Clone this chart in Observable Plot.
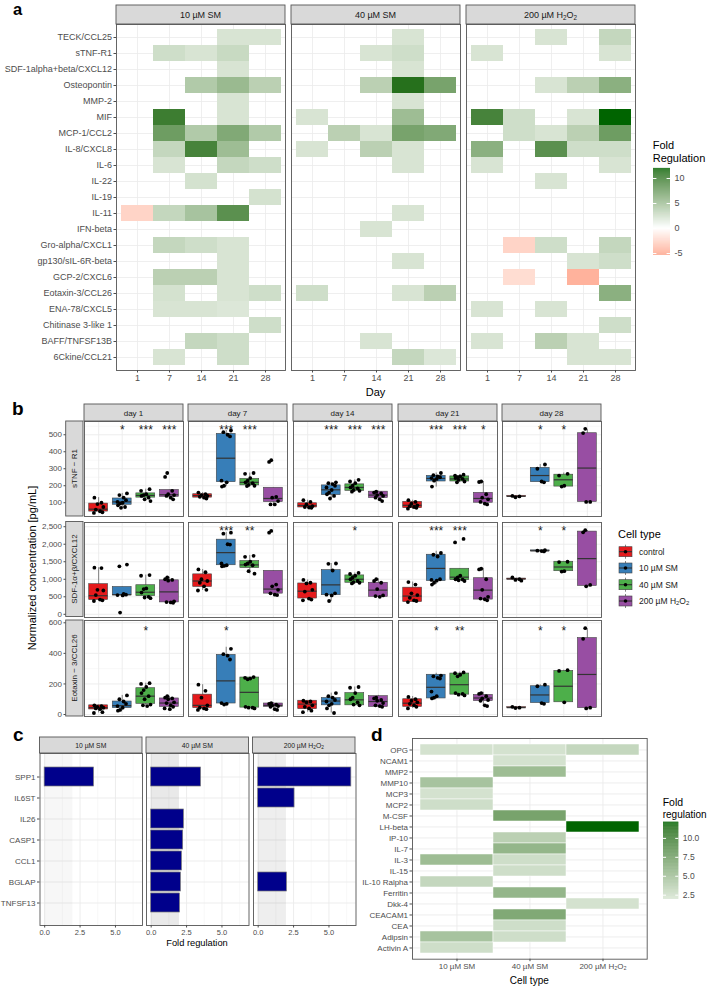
<!DOCTYPE html>
<html><head><meta charset="utf-8">
<script src="https://cdn.jsdelivr.net/npm/d3@7"></script>
<script src="https://cdn.jsdelivr.net/npm/@observablehq/plot@0.6"></script>
<style>
body{margin:0;background:#fff;}
#root{position:relative;width:708px;height:987px;overflow:hidden;background:#fff;}
</style></head><body><div id="root"></div>
<script>
// ---------------- DATA ----------------
// Panel a: cytokine array, fold regulation (null = not regulated)
const cytokinesA = ["TECK/CCL25","sTNF-R1","SDF-1alpha+beta/CXCL12","Osteopontin","MMP-2","MIF","MCP-1/CCL2","IL-8/CXCL8","IL-6","IL-22","IL-19","IL-11","IFN-beta","Gro-alpha/CXCL1","gp130/sIL-6R-beta","GCP-2/CXCL6","Eotaxin-3/CCL26","ENA-78/CXCL5","Chitinase 3-like 1","BAFF/TNFSF13B","6Ckine/CCL21"];
const daysA = ["1","7","14","21","28"];
const treatments = ["10 µM SM","40 µM SM","200 µM H2O2"];
const foldA_10SM = [
 [null,null,null,2,2],[null,2.5,2,2.8,null],[null,null,null,2,null],[null,null,4,5.2,3.5],
 [null,null,null,2,null],[null,10,null,2,null],[null,7.5,4,6.5,4],[null,3,9.5,5,null],
 [null,2,null,3,2.5],[null,null,2.2,null,null],[null,null,null,null,2.2],[-2.5,3,4.5,8.5,null],
 [null,null,null,null,null],[null,3,2.5,2,null],[null,null,null,2,null],[null,3.5,3.5,2,null],
 [null,2.2,null,2,2.5],[null,2,2,1.8,null],[null,null,null,null,2.5],[null,null,3,2.5,null],
 [null,2,null,2.5,null]];
const foldA_40SM = [
 [null,null,null,2,null],[null,null,2,2.5,null],[null,null,null,2,null],[null,null,3.5,11,7],
 [null,null,null,2,null],[2,null,null,5,null],[null,3.5,2,7,6.5],[2,null,3.5,2,null],
 [null,null,null,2,null],[null,null,null,null,null],[null,null,null,null,null],[null,null,null,2,null],
 [null,null,2,null,null],[null,null,null,null,null],[null,null,null,2,null],[null,null,null,null,null],
 [2.5,null,null,2,3.5],[null,null,null,null,null],[null,null,null,null,null],[null,null,2,null,null],
 [null,null,null,3,1.8]];
const foldA_200H = [
 [null,null,2,null,3],[2,null,null,null,2],[null,null,null,null,null],[null,null,2,3.5,6],
 [null,null,null,null,null],[9.5,2.5,null,2,12],[null,2.5,2,3.5,7.5],[6,null,8.5,2.5,2.5],
 [2,null,null,null,2],[null,null,2,null,null],[null,null,null,null,null],[null,null,null,null,null],
 [null,null,null,null,null],[null,-2.5,2.5,null,3],[null,null,null,2,2.5],[null,-2,null,-4.5,null],
 [null,null,null,null,6],[2,null,2,null,null],[null,null,null,null,2.5],[2,null,3.5,2,null],
 [null,null,null,2,2]];
const legendTicksA = [-5,0,5,10];

// Panel b: ELISA boxplots. stats = [lo, q1, median, q3, hi] per group, per day
const groups = ["control","10 µM SM","40 µM SM","200 µM H2O2"];
const daysB = ["day 1","day 7","day 14","day 21","day 28"];
const analytes = ["sTNF − R1","SDF-1α+β/CXCL12","Eotaxin − 3/CCL26"];
const sTNF_box = [
 [[40,48,62,95,130],[70,88,105,125,155],[110,130,143,155,180],[120,135,147,175,175]],
 [[122,130,142,150,160],[195,221,362,505,525],[198,202,220,240,275],[88,104,125,188,188]],
 [[68,72,84,97,115],[125,145,176,202,220],[160,170,190,208,235],[108,128,145,165,168]],
 [[62,68,85,105,115],[192,225,243,258,275],[218,225,240,255,265],[90,100,125,158,225]],
 [[133,135,138,140,141],[218,221,260,305,325],[190,195,235,265,275],[105,105,304,509,531]]];
const sTNF_pts = [
 [[130,100,92,75,60,50,44,40],[155,145,130,115,105,100,95,85,75,70],[180,170,150,145,140,130,120,110],[275,252,170,150,145,140,130,120]],
 [[160,150,145,140,135,130,125],[525,515,500,490,230,220,200,195],[275,270,245,230,220,215,205,200,198],[350,340,135,130,110,90,90]],
 [[115,105,90,80,75,72,70],[220,215,210,200,190,175,160,150,140,125],[235,225,215,200,190,185,175,170,165],[165,160,155,145,140,130,120,110]],
 [[115,105,95,85,80,75,70,65],[275,262,255,250,245,240,230,195],[265,260,255,250,245,240,235,225,220],[225,222,150,130,120,105,95,90]],
 [[140,137,132],[325,300,225,220],[270,260,200,195],[535,510,105,105]]];
const sTNF_stars = [["","*","***","***"],["","***","***",""],["","***","***","***"],["","***","***","*"],["","*","*",""]];
const SDF_box = [
 [[380,410,530,860,1330],[540,540,560,780,780],[460,520,630,830,1120],[330,340,640,970,1060]],
 [[680,780,950,1140,1280],[1370,1400,1760,2130,2340],[1150,1320,1410,1520,1680],[540,590,720,1240,1240]],
 [[400,450,660,880,980],[360,545,840,1260,1450],[870,900,1000,1110,1180],[490,500,690,900,1020]],
 [[340,350,520,760,920],[850,950,1310,1700,1800],[950,975,1060,1300,1300],[400,420,690,1030,1310]],
 [[960,990,1010,1020,1030],[1790,1800,1810,1825,1830],[1220,1230,1350,1500,1510],[800,810,1590,2360,2390]]];
const SDF_pts = [
 [[1330,1320,700,680,550,420,400,380],[1420,1370,580,560,550,540,50],[1120,1100,740,720,620,500,480,460],[1050,1000,980,960,370,350,340,330]],
 [[1280,1200,1000,950,900,800,700,680],[2330,2300,2000,1990,1450,1400,1380,1370],[1670,1640,1500,1450,1420,1400,1230,1160],[2380,2330,850,800,700,600,560,550]],
 [[980,900,880,700,650,450,420,400],[1450,1440,1250,600,560,540,380],[1180,1150,1100,1050,1000,950,920,900,880],[1000,950,900,720,540,520,500]],
 [[920,850,600,550,470,400,380,350],[1750,1700,1650,1000,980,960,900,850],[2150,2050,1100,1050,1000,990,970,950],[1300,1280,1000,700,500,450,430,400]],
 [[1050,1000,980,960],[1830,1815,1805,1795],[1500,1490,1230,1220],[2400,2340,840,800]]];
const SDF_stars = [["","","",""],["","***","**",""],["","","*",""],["","***","***",""],["","*","*",""]];
const Eot_box = [
 [[10,33,45,60,62],[25,42,58,85,125],[55,70,120,172,205],[35,50,75,105,120]],
 [[30,42,60,130,195],[65,72,220,390,440],[40,45,145,242,246],[30,50,60,72,78]],
 [[15,35,68,90,92],[10,60,88,108,140],[55,60,96,140,180],[45,50,85,120,125]],
 [[40,50,74,100,118],[100,105,178,260,270],[125,130,195,268,278],[55,88,108,128,145]],
 [[40,42,45,48,50],[70,75,128,185,195],[78,80,185,285,290],[40,42,262,500,560]]];
const Eot_pts = [
 [[60,55,50,45,40,35,15,10],[125,100,85,70,55,45,30,25],[205,200,180,160,140,120,100,65,60,55],[120,110,105,100,80,75,60,50,40,35]],
 [[195,155,110,60,45,40,35,30],[430,395,385,360,75,70,65],[245,240,235,230,50,45,45,40],[75,70,65,60,55,50,35,30]],
 [[90,85,80,60,50,40,25,15],[140,120,110,95,85,70,60,40,10],[180,175,140,110,100,80,65,60],[110,105,95,90,75,60,55,50]],
 [[115,100,90,80,70,60,50,40],[255,250,240,235,150,120,110,105],[275,270,260,250,140,135,130,125],[140,135,120,105,95,90,60,55]],
 [[50,45,42],[195,185,75,70],[290,285,80],[565,495,45,40]]];
const Eot_stars = [["","","*",""],["","*","",""],["","","",""],["","*","**",""],["","*","*",""]];
const yTicksB = [[100,200,300,400,500],[0,500,1000,1500,2000,2500],[0,200,400,600]];
const yMinorB = [[50,150,250,350,450,550],[250,750,1250,1750,2250],[100,300,500]];
const yDomainB = [[19,578],[-91,2620],[-13,615]];
const starLevelB = [545,2470,565];

// Panel c: gene expression fold regulation
const genesC = ["SPP1","IL6ST","IL26","CASP1","CCL1","BGLAP","TNFSF13"];
const foldC_10SM = [3.48,null,null,null,null,null,null];
const foldC_40SM = [3.52,null,2.31,2.26,2.17,2.1,2.03];
const foldC_200H = [6.58,2.57,null,null,null,2.03,null];
const xTicksC = [0,2.5,5];
const xMinorC = [1.25,3.75,6.25];

// Panel d: protein array fold regulation
const proteinsD = ["OPG","NCAM1","MMP2","MMP10","MCP3","MCP2","M-CSF","LH-beta","IP-10","IL-7","IL-3","IL-15","IL-10 Ralpha","Ferritin","Dkk-4","CEACAM1","CEA","Adipsin","Activin A"];
const foldD_10SM = [2.2,null,null,4.5,2.2,2.5,null,null,null,null,5,null,3,null,null,null,null,4.5,2.5];
const foldD_40SM = [2.2,2.2,5,null,null,null,7,null,3.5,5.5,2.5,2.5,null,5.5,null,6.5,2.5,2.5,null];
const foldD_200H = [3,null,null,null,null,null,null,12,null,null,null,null,null,null,2.2,null,null,null,null];
const legendTicksD = [2.5,5,7.5,10];

// ---------------- LAYOUT / HELPERS ----------------
const W = 708, H = 987;
const root = document.getElementById("root");
const FONT = '"Liberation Sans", Arial, Helvetica, sans-serif';
const baseStyle = {fontFamily: FONT, fontSize: "9px", background: "transparent", overflow: "visible", color: "#333"};
function place(svg, left, top) {
  svg.style.position = "absolute"; svg.style.left = left + "px"; svg.style.top = top + "px";
  svg.style.maxWidth = "none";
  root.appendChild(svg);
}
const GRID = "#ebebeb", GRIDMIN = "#f3f3f3", FRAME = "#555", TICKC = "#4d4d4d";

const colorA = {type: "linear", domain: [-5.4, 0, 12], range: ["#fca289", "#ffffff", "#006400"], interpolate: "lab"};
const colorD = {type: "linear", domain: [0, 12], range: ["#ffffff", "#006400"], interpolate: "lab"};
const subLabel = {"10 µM SM": "10 µM SM", "40 µM SM": "40 µM SM", "200 µM H2O2": "200 µM H₂O₂"};

// ---------------- PANEL a ----------------
const foldA = [foldA_10SM, foldA_40SM, foldA_200H];
const aLeft = [116, 291, 466], aW = 169, aTop = 24, aH = 346;
foldA.forEach((fold, k) => {
  const recs = [];
  cytokinesA.forEach((c, i) => daysA.forEach((d, j) => { if (fold[i][j] != null) recs.push({c, d, v: fold[i][j]}); }));
  const ml = k === 0 ? aLeft[0] : 0;
  const svg = Plot.plot({
    width: aW + ml, height: aH + 20, marginLeft: ml, marginRight: 0, marginTop: 0, marginBottom: 20,
    style: baseStyle,
    x: {type: "band", domain: daysA, paddingInner: 0, paddingOuter: 0.1},
    y: Object.assign({type: "band", domain: cytokinesA, paddingInner: 0, paddingOuter: 0.1}, k === 0 ? {} : {axis: null}),
    color: colorA,
    marks: [
      Plot.gridX({stroke: GRID, strokeOpacity: 1, strokeWidth: 0.8}),
      Plot.gridY({stroke: GRID, strokeOpacity: 1, strokeWidth: 0.8}),
      Plot.cell(recs, {x: "d", y: "c", fill: "v", inset: 0}),
      Plot.frame({stroke: FRAME, strokeWidth: 0.9}),
      Plot.axisX({tickSize: 2.5, tickPadding: 2, fontSize: 9, color: TICKC, label: null}),
      k === 0 ? Plot.axisY({tickSize: 2.5, tickPadding: 2, fontSize: 9, color: TICKC, label: null}) : null
    ]
  });
  place(svg, aLeft[k] - ml, aTop);
});
// colour bar a
{
  const svg = Plot.plot({
    width: 45, height: 87, marginLeft: 0, marginRight: 28, marginTop: 0, marginBottom: 0,
    style: baseStyle,
    x: {domain: [0, 1], axis: null},
    y: {domain: [-5.4, 12]},
    color: colorA,
    marks: [
      Plot.rect(d3.range(-5.4, 12, 0.05), {x1: () => 0, x2: () => 1, y1: d => d, y2: d => d + 0.07, fill: d => d + 0.025}),
      Plot.ruleY(legendTicksA, {x1: () => 0, x2: () => 0.2, stroke: "white"}),
      Plot.ruleY(legendTicksA, {x1: () => 0.8, x2: () => 1, stroke: "white"}),
      Plot.axisY(legendTicksA, {anchor: "right", tickSize: 0, tickPadding: 4, fontSize: 9, color: TICKC, label: null, tickFormat: d => String(d)})
    ]
  });
  place(svg, 652.7, 168);
}

// ---------------- PANEL b ----------------
const boxData = [sTNF_box, SDF_box, Eot_box];
const ptData = [sTNF_pts, SDF_pts, Eot_pts];
const starData = [sTNF_stars, SDF_stars, Eot_stars];
const groupColors = ["#E41A1C", "#377EB8", "#4DAF4A", "#984EA3"];
const jit = [-0.18, 0.12, -0.05, 0.2, -0.12, 0.06, 0.16, -0.2, 0.02, -0.09];
const bLeft = [84, 188, 293, 398, 502], bW = 99;
const bTop = [421, 521.5, 620], bH = [95, 95, 96];
for (let r = 0; r < 3; r++) {
  for (let d = 0; d < 5; d++) {
    const box = groups.map((g, i) => { const [lo, q1, med, q3, hi] = boxData[r][d][i]; return {g, i, lo, q1, med, q3, hi}; });
    const pts = groups.flatMap((g, i) => ptData[r][d][i].map((v, k) => ({i, k, v})));
    const stars = groups.map((g, i) => ({i, s: starData[r][d][i]})).filter(o => o.s);
    const ml = d === 0 ? bLeft[0] : 0;
    const svg = Plot.plot({
      width: bW + ml, height: bH[r], marginLeft: ml, marginRight: 0, marginTop: 0, marginBottom: 0,
      style: baseStyle,
      x: {domain: [-0.6, 3.6], axis: null},
      y: Object.assign({domain: yDomainB[r]}, d === 0 ? {} : {axis: null}),
      color: {domain: groups, range: groupColors},
      marks: [
        Plot.ruleY(yMinorB[r], {stroke: GRIDMIN, strokeWidth: 0.6}),
        Plot.ruleY(yTicksB[r], {stroke: GRID, strokeWidth: 0.9}),
        Plot.ruleX([0, 1, 2, 3], {stroke: GRID, strokeWidth: 0.9}),
        Plot.ruleX(box, {x: "i", y1: "lo", y2: "hi", stroke: "#333", strokeWidth: 0.6}),
        Plot.rect(box, {x1: o => o.i - 0.4, x2: o => o.i + 0.4, y1: "q1", y2: "q3", fill: "g", stroke: "#444", strokeWidth: 0.6}),
        Plot.ruleY(box, {y: "med", x1: o => o.i - 0.4, x2: o => o.i + 0.4, stroke: "#333", strokeWidth: 1.2}),
        Plot.dot(pts, {x: p => p.i + jit[(p.k + p.i * 3) % jit.length], y: "v", r: 1.9, fill: "black", stroke: "none"}),
        Plot.text(stars, {x: "i", y: () => starLevelB[r], text: "s", fontSize: 12, dy: 3, fill: "#222"}),
        Plot.frame({stroke: FRAME, strokeWidth: 0.9}),
        d === 0 ? Plot.axisY(yTicksB[r], {anchor: "left", tickSize: 2.5, tickPadding: 2, dx: -18, fontSize: 8, color: TICKC, label: null}) : null
      ]
    });
    place(svg, bLeft[d] - ml, bTop[r]);
  }
}

// ---------------- PANEL c ----------------
const foldC = [foldC_10SM, foldC_40SM, foldC_200H];
const shadeOp = [0.03, 0.085, 0.065];
const cLeft = [39.5, 146, 252.5], cW = 102.5, cTop = 753, cH = 172;
foldC.forEach((fold, k) => {
  const recs = genesC.map((g, i) => ({g, v: fold[i]})).filter(o => o.v != null);
  const ml = k === 0 ? cLeft[0] : 0;
  const svg = Plot.plot({
    width: cW + ml, height: cH + 14, marginLeft: ml, marginRight: 0, marginTop: 0, marginBottom: 14,
    style: baseStyle,
    x: {domain: [-0.33, 6.91]},
    y: Object.assign({type: "band", domain: genesC, paddingInner: 0.1, paddingOuter: 0.55}, k === 0 ? {} : {axis: null}),
    marks: [
      Plot.ruleX(xMinorC, {stroke: GRIDMIN, strokeWidth: 0.6}),
      Plot.ruleX(xTicksC, {stroke: GRID, strokeWidth: 0.9}),
      Plot.gridY({stroke: GRID, strokeOpacity: 1, strokeWidth: 0.9}),
      Plot.rect([0], {x1: () => 0, x2: () => 2, fill: "black", fillOpacity: shadeOp[k]}),
      Plot.barX(recs, {x1: () => 0, x2: "v", y: "g", fill: "#00008B", stroke: "#777", strokeWidth: 0.7}),
      Plot.frame({stroke: FRAME, strokeWidth: 0.9}),
      Plot.axisX(xTicksC, {tickSize: 2.5, tickPadding: 2, tickFormat: d3.format(".1f"), fontSize: 7.5, color: TICKC, label: null}),
      k === 0 ? Plot.axisY({tickSize: 2.5, tickPadding: 2, fontSize: 8, color: TICKC, label: null}) : null
    ]
  });
  place(svg, cLeft[k] - ml, cTop);
});

// ---------------- PANEL d ----------------
{
  const foldD = [foldD_10SM, foldD_40SM, foldD_200H];
  const recs = [];
  treatments.forEach((t, j) => proteinsD.forEach((p, i) => { if (foldD[j][i] != null) recs.push({t, p, v: foldD[j][i]}); }));
  const svg = Plot.plot({
    width: 82 + 234.7, height: 220.7 + 16, marginLeft: 82, marginRight: 0, marginTop: 0, marginBottom: 16,
    style: baseStyle,
    x: {type: "band", domain: treatments, paddingInner: 0, paddingOuter: 0.1},
    y: {type: "band", domain: proteinsD, paddingInner: 0, paddingOuter: 0.1},
    color: colorD,
    marks: [
      Plot.gridX({stroke: GRID, strokeOpacity: 1, strokeWidth: 0.9}),
      Plot.gridY({stroke: GRID, strokeOpacity: 1, strokeWidth: 0.9}),
      Plot.cell(recs, {x: "t", y: "p", fill: "v", inset: 0, stroke: "white", strokeWidth: 0.5}),
      Plot.frame({stroke: FRAME, strokeWidth: 0.9}),
      Plot.axisX({tickSize: 2.5, tickPadding: 2, fontSize: 8, color: TICKC, label: null, tickFormat: t => subLabel[t]}),
      Plot.axisY({tickSize: 2.5, tickPadding: 2, fontSize: 8, color: TICKC, label: null})
    ]
  });
  place(svg, 330, 738.3);
}
// colour bar d
{
  const svg = Plot.plot({
    width: 45, height: 77, marginLeft: 0, marginRight: 29.7, marginTop: 0, marginBottom: 0,
    style: baseStyle,
    x: {domain: [0, 1], axis: null},
    y: {domain: [1.93, 12.1]},
    color: colorD,
    marks: [
      Plot.rect(d3.range(1.93, 12.1, 0.04), {x1: () => 0, x2: () => 1, y1: d => d, y2: d => d + 0.055, fill: d => d + 0.02}),
      Plot.ruleY(legendTicksD, {x1: () => 0, x2: () => 0.2, stroke: "white"}),
      Plot.ruleY(legendTicksD, {x1: () => 0.8, x2: () => 1, stroke: "white"}),
      Plot.axisY(legendTicksD, {anchor: "right", tickSize: 0, tickPadding: 4, fontSize: 8.5, color: TICKC, label: null, tickFormat: d3.format(".1f")})
    ]
  });
  place(svg, 662.7, 822.3);
}

// ---------------- OVERLAY TEXT / STRIPS / LEGEND ----------------
const ov = d3.select(root).append("svg").attr("width", W).attr("height", H)
  .style("position", "absolute").style("left", "0px").style("top", "0px")
  .attr("font-family", FONT);
function addRich(t, s, size) {
  s.split(/(H2O2)/).forEach(p => {
    if (p === "H2O2") {
      t.append("tspan").text("H");
      t.append("tspan").attr("dy", size * 0.28).attr("font-size", size * 0.7).text("2");
      t.append("tspan").attr("dy", -size * 0.28).text("O");
      t.append("tspan").attr("dy", size * 0.28).attr("font-size", size * 0.7).text("2");
    } else if (p) t.append("tspan").text(p);
  });
}
function T(x, y, s, o = {}) {
  const size = o.size || 9;
  const t = ov.append("text").attr("x", x).attr("y", y)
    .attr("text-anchor", o.anchor || "middle").attr("dominant-baseline", o.baseline || "central")
    .attr("font-size", size).attr("fill", o.fill || "#1a1a1a").attr("font-weight", o.weight || "normal");
  if (o.rotate) t.attr("transform", `rotate(${o.rotate},${x},${y})`);
  addRich(t, s, size);
  return t;
}
function strip(x, y, w, h, s, size, vertical) {
  ov.append("rect").attr("x", x).attr("y", y).attr("width", w).attr("height", h)
    .attr("fill", "#d9d9d9").attr("stroke", FRAME).attr("stroke-width", 0.9);
  T(x + w / 2, y + h / 2, s, {size, rotate: vertical ? -90 : 0});
}
// panel letters
T(13, 14.5, "a", {size: 16.5, weight: "bold", anchor: "start", baseline: "alphabetic", fill: "#000"});
T(12, 415, "b", {size: 19, weight: "bold", anchor: "start", baseline: "alphabetic", fill: "#000"});
T(13, 741, "c", {size: 19, weight: "bold", anchor: "start", baseline: "alphabetic", fill: "#000"});
T(371, 741, "d", {size: 19, weight: "bold", anchor: "start", baseline: "alphabetic", fill: "#000"});
// panel a
treatments.forEach((t, k) => strip(aLeft[k], 5, aW, 19, t, 9));
T(375.5, 392, "Day", {size: 11, fill: "#000"});
T(652.7, 145, "Fold", {size: 11, anchor: "start", fill: "#000"});
T(652.7, 157.5, "Regulation", {size: 11, anchor: "start", fill: "#000"});
// panel b
daysB.forEach((d, k) => strip(bLeft[k], 404, bW, 17, d, 8));
analytes.forEach((a, r) => strip(65.7, bTop[r], 17.3, bH[r], a, 8, true));
T(31.5, 568, "Normalized concentration [pg/mL]", {size: 11, rotate: -90, fill: "#000"});
T(618, 534, "Cell type", {size: 11, anchor: "start", fill: "#000"});
const keyY = [551.7, 568, 584.7, 601];
groups.forEach((g, i) => {
  const cx = 625.5, cy = keyY[i];
  ov.append("line").attr("x1", cx).attr("x2", cx).attr("y1", cy - 7).attr("y2", cy + 7).attr("stroke", "#333").attr("stroke-width", 0.6);
  ov.append("rect").attr("x", cx - 6.5).attr("y", cy - 5).attr("width", 13).attr("height", 10).attr("fill", groupColors[i]).attr("stroke", "#444").attr("stroke-width", 0.6);
  ov.append("line").attr("x1", cx - 6.5).attr("x2", cx + 6.5).attr("y1", cy).attr("y2", cy).attr("stroke", "#333").attr("stroke-width", 1.1);
  ov.append("circle").attr("cx", cx).attr("cy", cy).attr("r", 1.8).attr("fill", "black");
  T(639, cy, g, {size: 8.5, anchor: "start"});
});
// panel c
treatments.forEach((t, k) => strip(cLeft[k], 737, cW, 16, t, 6.8));
T(197, 943, "Fold regulation", {size: 9.3, fill: "#000"});
// panel d
T(529.3, 980, "Cell type", {size: 10, fill: "#000"});
T(662.7, 802, "Fold", {size: 10.5, anchor: "start", fill: "#000"});
T(662.7, 813.5, "regulation", {size: 10, anchor: "start", fill: "#000"});
</script>
</body></html>
